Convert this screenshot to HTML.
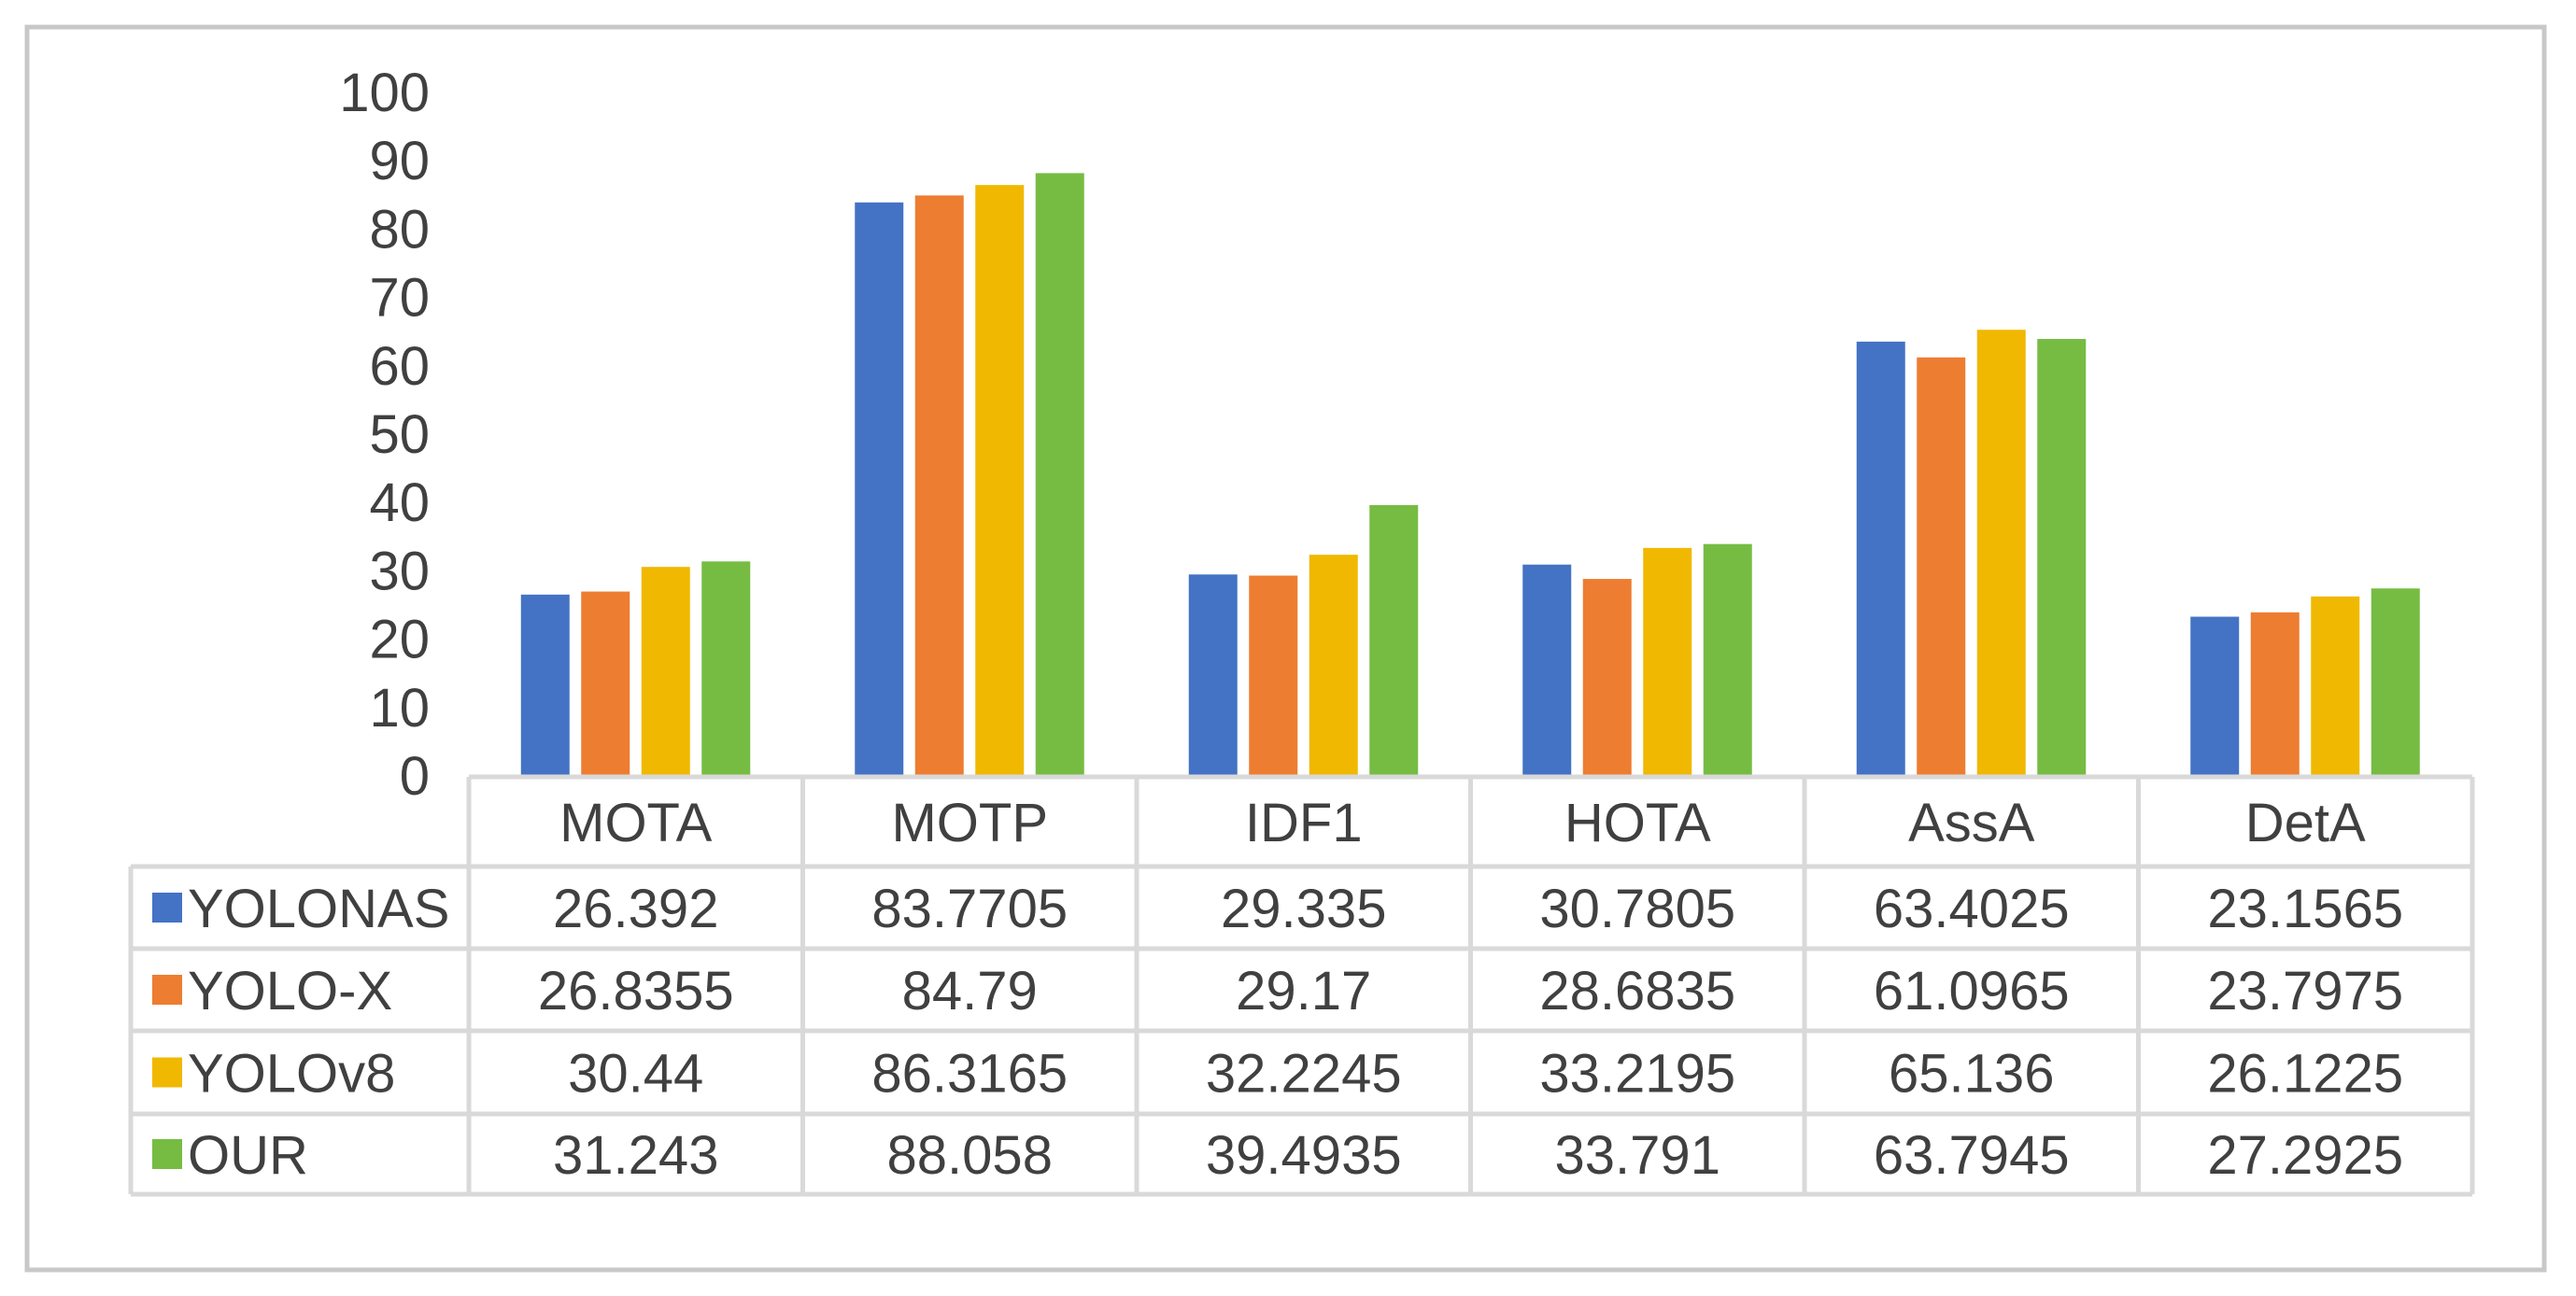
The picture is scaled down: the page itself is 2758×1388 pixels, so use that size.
<!DOCTYPE html>
<html><head><meta charset="utf-8"><style>
html,body{margin:0;padding:0;background:#fff;}
svg{display:block;}
text{font-family:"Liberation Sans",sans-serif;fill:#404040;}
</style></head><body>
<svg id="chart" width="2758" height="1388" viewBox="0 0 2758 1388" xmlns="http://www.w3.org/2000/svg">
<rect x="29" y="29" width="2695" height="1331" fill="#fff" stroke="#c8c8c8" stroke-width="5"/>
<g id="yaxis"></g><g id="bars"></g><g id="table"></g>
</svg>
<script>
const categories = ["MOTA","MOTP","IDF1","HOTA","AssA","DetA"];
const seriesNames = ["YOLONAS","YOLO-X","YOLOv8","OUR"];
const yolonas = [26.392,83.7705,29.335,30.7805,63.4025,23.1565];
const yolox = [26.8355,84.79,29.17,28.6835,61.0965,23.7975];
const yolov8 = [30.44,86.3165,32.2245,33.2195,65.136,26.1225];
const our = [31.243,88.058,39.4935,33.791,63.7945,27.2925];
const yTicks = [0,10,20,30,40,50,60,70,80,90,100];
const series = [yolonas, yolox, yolov8, our];
const colors = ["#4472c4","#ed7d31","#f0b800","#76bc43"];
const NS = "http://www.w3.org/2000/svg";
const baseY = 830, unit = 7.32, colX0 = 502, colW = 357.5, legendX = 140;
const FS = 58;
const y = v => baseY - v * unit;
const xc = i => colX0 + colW * i + colW / 2;
function mk(tag, attrs, parent, txt){const e=document.createElementNS(NS,tag);for(const k in attrs)e.setAttribute(k,attrs[k]);if(txt!==undefined)e.textContent=txt;parent.appendChild(e);return e;}
const gy=document.getElementById('yaxis'), gb=document.getElementById('bars'), gt=document.getElementById('table');
yTicks.forEach(t=>{
  const e=mk('text',{x:460,y:y(t)+21,'text-anchor':'end','font-size':FS},gy,String(t));
  
  
});
const offs=[-123,-58.5,6,70.5], bw=52;
series.forEach((s,si)=>{
  s.forEach((v,ci)=>{
    const r=mk('rect',{x:xc(ci)+offs[si],y:y(v),width:bw,height:v*unit,fill:colors[si]},gb);
    
    
  });
});
const rowsY=[832,928,1016,1104,1193,1279];
const g='#d9d9d9', sw=5;
const right=colX0+colW*6;
mk('line',{x1:colX0,y1:rowsY[0],x2:right,y2:rowsY[0],stroke:g,'stroke-width':sw},gt);
for(let r=1;r<rowsY.length;r++) mk('line',{x1:legendX,y1:rowsY[r],x2:right,y2:rowsY[r],stroke:g,'stroke-width':sw},gt);
mk('line',{x1:legendX,y1:rowsY[1],x2:legendX,y2:rowsY[5],stroke:g,'stroke-width':sw},gt);
for(let c=0;c<=6;c++) mk('line',{x1:colX0+colW*c,y1:rowsY[0],x2:colX0+colW*c,y2:rowsY[5],stroke:g,'stroke-width':sw},gt);
categories.forEach((c,ci)=>{
  const e=mk('text',{x:xc(ci),y:(rowsY[0]+rowsY[1])/2+21,'text-anchor':'middle','font-size':FS},gt,c);
  
  
});
series.forEach((s,si)=>{
  const cy=(rowsY[si+1]+rowsY[si+2])/2;
  const sq=mk('rect',{x:163,y:cy-16,width:32,height:32,fill:colors[si]},gt);
  
  
  const lt=mk('text',{x:201,y:cy+21,'font-size':FS},gt,seriesNames[si]);
  
  
  s.forEach((v,ci)=>{
    const e=mk('text',{x:xc(ci),y:cy+21,'text-anchor':'middle','font-size':FS},gt,String(v));
    
    
  });
});
</script>
</body></html>
